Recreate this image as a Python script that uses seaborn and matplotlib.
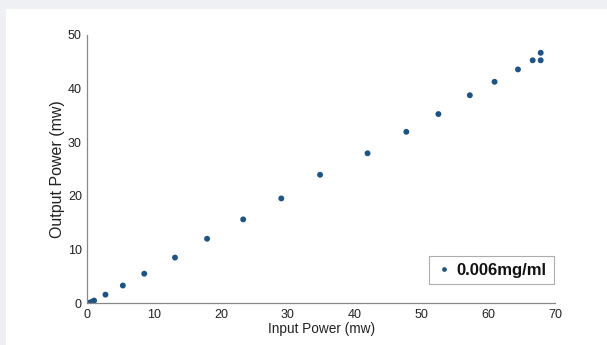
import pandas as pd
import matplotlib
matplotlib.use("Agg")
import matplotlib.pyplot as plt
import seaborn as sns
from matplotlib.patches import Rectangle

# values
input_power = [0.0, 0.3, 0.7, 1.0, 2.7, 5.3, 8.5, 13.1, 17.9, 23.3, 29.0, 34.8,
               41.9, 47.7, 52.5, 57.2, 60.9, 64.4, 66.6, 67.8, 67.8]
output_power = [0.0, 0.1, 0.3, 0.5, 1.6, 3.3, 5.5, 8.5, 12.0, 15.6, 19.5, 23.9,
                27.9, 31.9, 35.2, 38.7, 41.2, 43.5, 45.2, 45.2, 46.6]
series_label = "0.006mg/ml"
x_ticks = [0, 10, 20, 30, 40, 50, 60, 70]
y_ticks = [0, 10, 20, 30, 40, 50]

ds = pd.DataFrame({"Input Power (mw)": input_power,
                   "Output Power (mw)": output_power,
                   "series": series_label})

sns.set_style("white")
plt.rcParams["font.family"] = ["Liberation Sans Narrow", "Liberation Sans", "DejaVu Sans"]

fig = plt.figure(figsize=(6.07, 3.45), dpi=100)
fig.patch.set_facecolor("white")
# light grey frame at top and left, as in the screenshot
fig.patches.append(Rectangle((0, 1 - 9 / 345), 1, 9 / 345, transform=fig.transFigure,
                             facecolor="#eef0f3", edgecolor="none", zorder=0))
fig.patches.append(Rectangle((0, 0), 6 / 607, 1, transform=fig.transFigure,
                             facecolor="#eef0f3", edgecolor="none", zorder=0))

ax = fig.add_axes([0.144, 0.121, 0.771, 0.779])
sns.scatterplot(data=ds, x="Input Power (mw)", y="Output Power (mw)", hue="series",
                palette=["#1d5485"], s=18, edgecolor="none", ax=ax)

ax.set_xlim(0, 70)
ax.set_ylim(0, 50)
ax.set_xticks(x_ticks)
ax.set_yticks(y_ticks)
ax.tick_params(direction="in", length=3, width=0.6, color="#888888",
               labelsize=9, labelcolor="#222222", pad=4)
ax.set_xlabel("Input Power (mw)", fontsize=9.8, color="#222222", labelpad=1)
ax.set_ylabel("Output Power (mw)", fontsize=11.5, color="#222222", labelpad=2)
sns.despine(ax=ax)
for side in ["left", "bottom"]:
    ax.spines[side].set_color("#888888")
    ax.spines[side].set_linewidth(0.9)

leg = ax.legend(loc="lower right", bbox_to_anchor=(0.996, 0.07), borderaxespad=0,
                prop={"size": 12, "weight": "bold"},
                markerscale=0.8, handletextpad=0.3, borderpad=0.4,
                fancybox=False, frameon=True, handlelength=1.0)
leg.get_frame().set_edgecolor("#999999")
leg.get_frame().set_linewidth(0.8)
for t in leg.get_texts():
    t.set_color("#111111")

fig.savefig("out.png", dpi=100)
